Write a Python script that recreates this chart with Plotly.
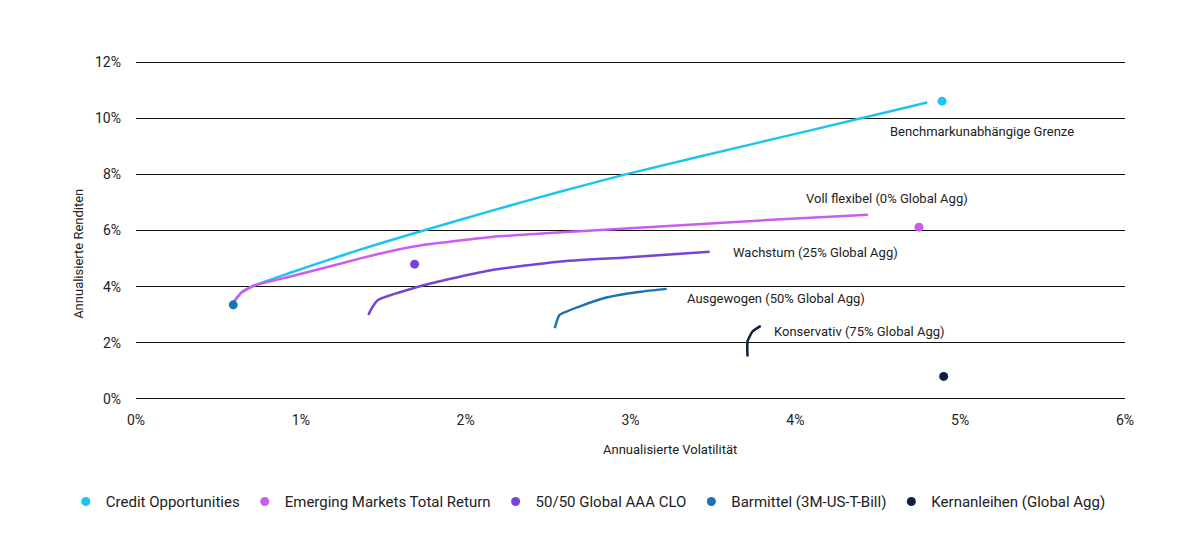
import plotly.graph_objects as go

# ---- data ----
series_names = ["Credit Opportunities", "Emerging Markets Total Return", "50/50 Global AAA CLO",
                "Barmittel (3M-US-T-Bill)", "Kernanleihen (Global Agg)"]
colors = ["#1cc4f0", "#cb5cf0", "#7745d6", "#1874b8", "#0e2140"]
point_vol = [4.89, 4.75, 1.69, 0.59, 4.90]
point_ret = [10.61, 6.12, 4.80, 3.35, 0.80]

frontier_names = ["Benchmarkunabhängige Grenze", "Voll flexibel (0% Global Agg)", "Wachstum (25% Global Agg)",
                  "Ausgewogen (50% Global Agg)", "Konservativ (75% Global Agg)"]
frontier_vol = [
    [0.59, 0.64, 0.72, 0.95, 1.15, 1.35, 1.55, 1.75, 2.16, 2.56, 2.97, 3.79, 4.40, 4.80],
    [0.59, 0.64, 0.72, 0.95, 1.15, 1.35, 1.55, 1.75, 2.16, 2.56, 2.97, 3.79, 4.44],
    [1.41, 1.43, 1.47, 1.75, 2.16, 2.56, 2.97, 3.48],
    [2.54, 2.57, 2.69, 2.86, 3.06, 3.22],
    [3.71, 3.71, 3.74, 3.79],
]
frontier_ret = [
    [3.43, 3.79, 4.05, 4.52, 4.92, 5.30, 5.66, 6.01, 6.71, 7.36, 8.00, 9.15, 10.00, 10.56],
    [3.43, 3.79, 4.04, 4.38, 4.68, 4.99, 5.27, 5.49, 5.77, 5.93, 6.07, 6.36, 6.56],
    [2.99, 3.23, 3.53, 4.06, 4.59, 4.89, 5.04, 5.24],
    [2.52, 2.99, 3.29, 3.62, 3.82, 3.92],
    [1.51, 2.05, 2.40, 2.60],
]
label_pos_x = [4.56, 4.05, 3.61, 3.33, 3.86]
label_pos_y = [9.53, 7.14, 5.22, 3.59, 2.40]

x_ticks = [0, 1, 2, 3, 4, 5, 6]
y_ticks = [0, 2, 4, 6, 8, 10, 12]

FONT = "Roboto, Liberation Sans, sans-serif"
TXT = "#222222"

fig = go.Figure()
for i in range(len(frontier_names)):
    fig.add_trace(go.Scatter(x=frontier_vol[i], y=frontier_ret[i], mode="lines",
                             line=dict(color=colors[i], width=2.5, shape="spline", smoothing=0.5),
                             showlegend=False, hoverinfo="skip"))
for i in range(len(series_names)):
    fig.add_trace(go.Scatter(x=[point_vol[i]], y=[point_ret[i]], mode="markers", name=series_names[i],
                             marker=dict(color=colors[i], size=9)))

for i in range(len(frontier_names)):
    fig.add_annotation(x=label_pos_x[i], y=label_pos_y[i], text=frontier_names[i], showarrow=False,
                       xanchor="left", yanchor="middle", font=dict(family=FONT, size=13, color=TXT))

fig.add_annotation(xref="paper", yref="paper", x=0.54, y=-0.145, text="Annualisierte Volatilität",
                   showarrow=False, xanchor="center", yanchor="middle",
                   font=dict(family=FONT, size=13, color=TXT))
fig.add_annotation(xref="paper", yref="paper", x=-0.058, y=0.43, text="Annualisierte Renditen",
                   showarrow=False, textangle=-90, xanchor="center", yanchor="middle",
                   font=dict(family=FONT, size=13, color=TXT))

fig.update_layout(
    width=1189, height=548,
    margin=dict(l=128, r=72, t=53, b=156),
    paper_bgcolor="white", plot_bgcolor="white",
    font=dict(family=FONT, size=14, color=TXT),
    xaxis=dict(range=[0, 6], tickvals=x_ticks, ticktext=[f"{v}%" for v in x_ticks],
               showgrid=False, zeroline=False, showline=False, ticklabelstandoff=10),
    yaxis=dict(range=[-0.04, 12.04], tickvals=y_ticks, ticktext=[f"{v}%" for v in y_ticks],
               showgrid=True, gridcolor="#111111", gridwidth=1.3, zeroline=False, showline=False,
               ticklabelstandoff=14),
    legend=dict(orientation="h", x=-0.071, xanchor="left", y=-0.30, yanchor="middle",
                font=dict(family=FONT, size=15, color=TXT)),
    showlegend=True,
)

fig.write_html("out.html")
